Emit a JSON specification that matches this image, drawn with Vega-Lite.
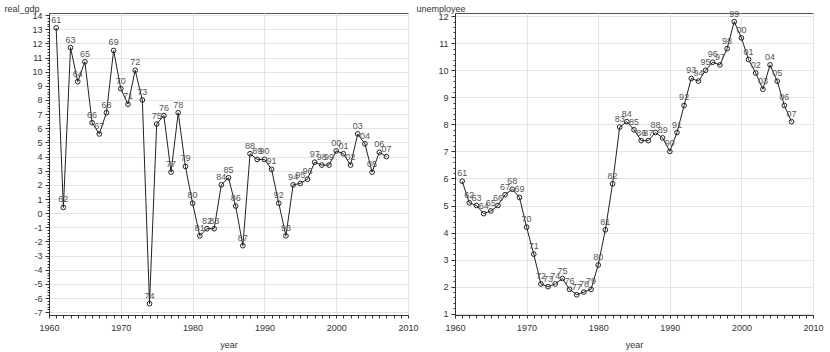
{
  "$schema": "https://vega.github.io/schema/vega-lite/v6.json",
  "padding": {"left": 3, "top": 3, "right": 5, "bottom": 5},
  "background": "white",
  "config": {
    "font": "Liberation Sans",
    "view": {"stroke": "#555555", "strokeWidth": 1},
    "axis": {
      "labelFont": "Liberation Sans",
      "titleFont": "Liberation Sans",
      "labelFontSize": 9,
      "titleFontSize": 9,
      "titleFontWeight": "normal",
      "labelColor": "#333333",
      "titleColor": "#333333",
      "domainColor": "#333333",
      "tickColor": "#333333",
      "gridColor": "#e4e4e4",
      "labelOverlap": false,
      "labelFlush": false
    }
  },
  "datasets": {
    "gdp": [
      {"year": 1961, "value": 13.1, "lbl": "61"},
      {"year": 1962, "value": 0.4, "lbl": "62"},
      {"year": 1963, "value": 11.7, "lbl": "63"},
      {"year": 1964, "value": 9.3, "lbl": "64"},
      {"year": 1965, "value": 10.7, "lbl": "65"},
      {"year": 1966, "value": 6.4, "lbl": "66"},
      {"year": 1967, "value": 5.6, "lbl": "67"},
      {"year": 1968, "value": 7.1, "lbl": "68"},
      {"year": 1969, "value": 11.5, "lbl": "69"},
      {"year": 1970, "value": 8.8, "lbl": "70"},
      {"year": 1971, "value": 7.7, "lbl": "71"},
      {"year": 1972, "value": 10.1, "lbl": "72"},
      {"year": 1973, "value": 8.0, "lbl": "73"},
      {"year": 1974, "value": -6.4, "lbl": "74"},
      {"year": 1975, "value": 6.3, "lbl": "75"},
      {"year": 1976, "value": 6.9, "lbl": "76"},
      {"year": 1977, "value": 2.9, "lbl": "77"},
      {"year": 1978, "value": 7.1, "lbl": "78"},
      {"year": 1979, "value": 3.3, "lbl": "79"},
      {"year": 1980, "value": 0.7, "lbl": "80"},
      {"year": 1981, "value": -1.6, "lbl": "81"},
      {"year": 1982, "value": -1.1, "lbl": "82"},
      {"year": 1983, "value": -1.1, "lbl": "83"},
      {"year": 1984, "value": 2.0, "lbl": "84"},
      {"year": 1985, "value": 2.5, "lbl": "85"},
      {"year": 1986, "value": 0.5, "lbl": "86"},
      {"year": 1987, "value": -2.3, "lbl": "87"},
      {"year": 1988, "value": 4.2, "lbl": "88"},
      {"year": 1989, "value": 3.8, "lbl": "89"},
      {"year": 1990, "value": 3.8, "lbl": "90"},
      {"year": 1991, "value": 3.1, "lbl": "91"},
      {"year": 1992, "value": 0.7, "lbl": "92"},
      {"year": 1993, "value": -1.6, "lbl": "93"},
      {"year": 1994, "value": 2.0, "lbl": "94"},
      {"year": 1995, "value": 2.1, "lbl": "95"},
      {"year": 1996, "value": 2.4, "lbl": "96"},
      {"year": 1997, "value": 3.6, "lbl": "97"},
      {"year": 1998, "value": 3.4, "lbl": "98"},
      {"year": 1999, "value": 3.4, "lbl": "99"},
      {"year": 2000, "value": 4.4, "lbl": "00"},
      {"year": 2001, "value": 4.2, "lbl": "01"},
      {"year": 2002, "value": 3.4, "lbl": "02"},
      {"year": 2003, "value": 5.6, "lbl": "03"},
      {"year": 2004, "value": 4.9, "lbl": "04"},
      {"year": 2005, "value": 2.9, "lbl": "05"},
      {"year": 2006, "value": 4.3, "lbl": "06"},
      {"year": 2007, "value": 4.0, "lbl": "07"}
    ],
    "unemp": [
      {"year": 1961, "value": 5.9, "lbl": "61"},
      {"year": 1962, "value": 5.1, "lbl": "62"},
      {"year": 1963, "value": 5.0, "lbl": "63"},
      {"year": 1964, "value": 4.7, "lbl": "64"},
      {"year": 1965, "value": 4.8, "lbl": "65"},
      {"year": 1966, "value": 5.0, "lbl": "66"},
      {"year": 1967, "value": 5.4, "lbl": "67"},
      {"year": 1968, "value": 5.6, "lbl": "68"},
      {"year": 1969, "value": 5.3, "lbl": "69"},
      {"year": 1970, "value": 4.2, "lbl": "70"},
      {"year": 1971, "value": 3.2, "lbl": "71"},
      {"year": 1972, "value": 2.1, "lbl": "72"},
      {"year": 1973, "value": 2.0, "lbl": "73"},
      {"year": 1974, "value": 2.1, "lbl": "74"},
      {"year": 1975, "value": 2.3, "lbl": "75"},
      {"year": 1976, "value": 1.9, "lbl": "76"},
      {"year": 1977, "value": 1.7, "lbl": "77"},
      {"year": 1978, "value": 1.8, "lbl": "78"},
      {"year": 1979, "value": 1.9, "lbl": "79"},
      {"year": 1980, "value": 2.8, "lbl": "80"},
      {"year": 1981, "value": 4.1, "lbl": "81"},
      {"year": 1982, "value": 5.8, "lbl": "82"},
      {"year": 1983, "value": 7.9, "lbl": "83"},
      {"year": 1984, "value": 8.1, "lbl": "84"},
      {"year": 1985, "value": 7.8, "lbl": "85"},
      {"year": 1986, "value": 7.4, "lbl": "86"},
      {"year": 1987, "value": 7.4, "lbl": "87"},
      {"year": 1988, "value": 7.7, "lbl": "88"},
      {"year": 1989, "value": 7.5, "lbl": "89"},
      {"year": 1990, "value": 7.0, "lbl": "90"},
      {"year": 1991, "value": 7.7, "lbl": "91"},
      {"year": 1992, "value": 8.7, "lbl": "92"},
      {"year": 1993, "value": 9.7, "lbl": "93"},
      {"year": 1994, "value": 9.6, "lbl": "94"},
      {"year": 1995, "value": 10.0, "lbl": "95"},
      {"year": 1996, "value": 10.3, "lbl": "96"},
      {"year": 1997, "value": 10.2, "lbl": "97"},
      {"year": 1998, "value": 10.8, "lbl": "98"},
      {"year": 1999, "value": 11.8, "lbl": "99"},
      {"year": 2000, "value": 11.2, "lbl": "00"},
      {"year": 2001, "value": 10.4, "lbl": "01"},
      {"year": 2002, "value": 9.9, "lbl": "02"},
      {"year": 2003, "value": 9.3, "lbl": "03"},
      {"year": 2004, "value": 10.2, "lbl": "04"},
      {"year": 2005, "value": 9.6, "lbl": "05"},
      {"year": 2006, "value": 8.7, "lbl": "06"},
      {"year": 2007, "value": 8.1, "lbl": "07"}
    ]
  },
  "hconcat": [
    {
      "width": 359,
      "height": 302,
      "data": {"name": "gdp"},
      "encoding": {
        "x": {
          "field": "year", "type": "quantitative",
          "scale": {"domain": [1960, 2010], "nice": false, "zero": false},
          "axis": {
            "title": "year", "titlePadding": 8,
            "values": [1960,1961,1962,1963,1964,1965,1966,1967,1968,1969,1970,1971,1972,1973,1974,1975,1976,1977,1978,1979,1980,1981,1982,1983,1984,1985,1986,1987,1988,1989,1990,1991,1992,1993,1994,1995,1996,1997,1998,1999,2000,2001,2002,2003,2004,2005,2006,2007,2008,2009,2010],
            "labelExpr": "datum.value % 10 === 0 ? datum.value : ''",
            "tickSize": 3,
            "labelPadding": 5,
            "gridOpacity": {"condition": {"test": "datum.value % 10 === 0", "value": 1}, "value": 0}
          }
        },
        "y": {
          "field": "value", "type": "quantitative",
          "scale": {"domain": [-7.2, 14.15], "nice": false, "zero": false},
          "axis": {
            "title": "real_gdp",
            "titleAngle": 0, "titleAlign": "left", "titleBaseline": "alphabetic",
            "titleX": -45, "titleY": -2,
            "values": [-7,-6.8,-6.6,-6.4,-6.2,-6,-5.8,-5.6,-5.4,-5.2,-5,-4.8,-4.6,-4.4,-4.2,-4,-3.8,-3.6,-3.4,-3.2,-3,-2.8,-2.6,-2.4,-2.2,-2,-1.8,-1.6,-1.4,-1.2,-1,-0.8,-0.6,-0.4,-0.2,0,0.2,0.4,0.6,0.8,1,1.2,1.4,1.6,1.8,2,2.2,2.4,2.6,2.8,3,3.2,3.4,3.6,3.8,4,4.2,4.4,4.6,4.8,5,5.2,5.4,5.6,5.8,6,6.2,6.4,6.6,6.8,7,7.2,7.4,7.6,7.8,8,8.2,8.4,8.6,8.8,9,9.2,9.4,9.6,9.8,10,10.2,10.4,10.6,10.8,11,11.2,11.4,11.6,11.8,12,12.2,12.4,12.6,12.8,13,13.2,13.4,13.6,13.8,14],
            "labelExpr": "datum.value % 1 === 0 ? datum.value : ''",
            "tickSize": {"condition": {"test": "datum.value % 1 === 0", "value": 4}, "value": 2},
            "labelPadding": 3,
            "gridOpacity": {"condition": {"test": "datum.value % 1 === 0", "value": 1}, "value": 0}
          }
        }
      },
      "layer": [
        {"mark": {"type": "line", "color": "#222222", "strokeWidth": 1}},
        {"mark": {"type": "point", "shape": "circle", "filled": false, "color": "#222222", "size": 22, "strokeWidth": 1, "opacity": 1}},
        {"mark": {"type": "text", "dy": -8, "fontSize": 9, "color": "#555555"}, "encoding": {"text": {"field": "lbl"}}}
      ]
    },
    {
      "width": 358,
      "height": 302,
      "data": {"name": "unemp"},
      "encoding": {
        "x": {
          "field": "year", "type": "quantitative",
          "scale": {"domain": [1960, 2010], "nice": false, "zero": false},
          "axis": {
            "title": "year", "titlePadding": 8,
            "values": [1960,1961,1962,1963,1964,1965,1966,1967,1968,1969,1970,1971,1972,1973,1974,1975,1976,1977,1978,1979,1980,1981,1982,1983,1984,1985,1986,1987,1988,1989,1990,1991,1992,1993,1994,1995,1996,1997,1998,1999,2000,2001,2002,2003,2004,2005,2006,2007,2008,2009,2010],
            "labelExpr": "datum.value % 10 === 0 ? datum.value : ''",
            "tickSize": 3,
            "labelPadding": 5,
            "gridOpacity": {"condition": {"test": "datum.value % 10 === 0", "value": 1}, "value": 0}
          }
        },
        "y": {
          "field": "value", "type": "quantitative",
          "scale": {"domain": [0.95, 12.12], "nice": false, "zero": false},
          "axis": {
            "title": "unemployee",
            "titleAngle": 0, "titleAlign": "left", "titleBaseline": "alphabetic",
            "titleX": -39, "titleY": -2,
            "values": [1,1.2,1.4,1.6,1.8,2,2.2,2.4,2.6,2.8,3,3.2,3.4,3.6,3.8,4,4.2,4.4,4.6,4.8,5,5.2,5.4,5.6,5.8,6,6.2,6.4,6.6,6.8,7,7.2,7.4,7.6,7.8,8,8.2,8.4,8.6,8.8,9,9.2,9.4,9.6,9.8,10,10.2,10.4,10.6,10.8,11,11.2,11.4,11.6,11.8,12],
            "labelExpr": "datum.value % 1 === 0 ? datum.value : ''",
            "tickSize": {"condition": {"test": "datum.value % 1 === 0", "value": 4}, "value": 2},
            "labelPadding": 3,
            "gridOpacity": {"condition": {"test": "datum.value % 1 === 0", "value": 1}, "value": 0}
          }
        }
      },
      "layer": [
        {"mark": {"type": "line", "color": "#222222", "strokeWidth": 1}},
        {"mark": {"type": "point", "shape": "circle", "filled": false, "color": "#222222", "size": 22, "strokeWidth": 1, "opacity": 1}},
        {"mark": {"type": "text", "dy": -8, "fontSize": 9, "color": "#555555"}, "encoding": {"text": {"field": "lbl"}}}
      ]
    }
  ],
  "spacing": 47,
  "bounds": "flush"
}
